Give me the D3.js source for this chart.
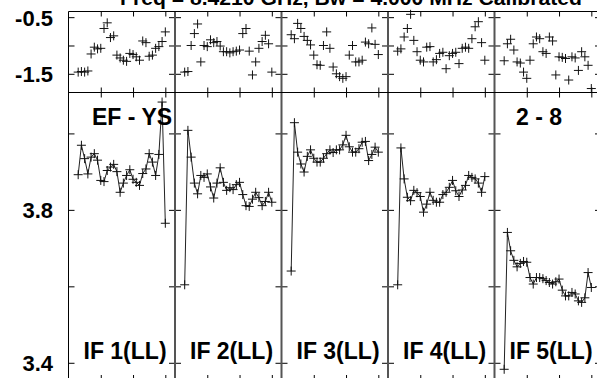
<!DOCTYPE html>
<html><head><meta charset="utf-8">
<script src="https://cdn.jsdelivr.net/npm/d3@7"></script>
<style>html,body{margin:0;padding:0;background:#fff;overflow:hidden}</style>
</head><body><svg id="c" width="597" height="378"></svg>
<script>
// ---------- DATA ----------
const channels = [3,4,5,6,7,8,9,10,11,12,13,14,15,16,17,18,19,20,21,22,23,24,25,26,27,28,29,30];
const ifLabels = ["IF 1(LL)","IF 2(LL)","IF 3(LL)","IF 4(LL)","IF 5(LL)"];
const titleText = "Freq = 8.4210 GHz, Bw = 4.000 MHz   Calibrated";
const baselineLabel = "EF - YS";
const stokesLabel = "2 - 8";

const phaseIF1 = [-1.47,-1.46,-1.47,-1.45,-1.15,-1.03,-1.06,-1.05,-0.70,-0.60,-0.86,-0.83,-1.17,-1.22,-1.26,-1.28,-1.14,-1.16,-1.20,-1.26,-0.92,-0.95,-1.19,-1.17,-1.05,-1.02,-0.93,-0.76];
const phaseIF2 = [-1.47,-1.46,-1.00,-0.79,-0.62,-1.29,-1.00,-1.02,-0.90,-0.95,-0.93,-1.01,-1.11,-1.11,-1.13,-1.11,-1.10,-1.08,-0.79,-0.70,-1.10,-1.52,-1.29,-1.05,-0.93,-0.82,-0.97,-1.47];
const phaseIF3 = [-0.81,-0.88,-0.61,-0.70,-0.84,-0.91,-0.99,-1.17,-1.34,-1.35,-1.00,-0.76,-1.05,-1.38,-1.50,-1.55,-1.58,-1.55,-1.17,-1.00,-1.29,-1.29,-1.26,-0.94,-0.97,-0.69,-0.98,-1.16];
const phaseIF4 = [-1.10,-1.06,-0.85,-0.70,-0.45,-0.91,-1.11,-1.26,-1.29,-1.03,-1.02,-1.29,-1.25,-1.14,-1.12,-1.41,-1.18,-1.14,-1.12,-1.32,-1.05,-1.03,-1.05,-0.88,-0.67,-0.58,-0.95,-1.26];
const phaseIF5 = [-1.27,-0.97,-0.89,-1.08,-1.29,-1.31,-1.47,-1.58,-1.26,-0.97,-0.85,-0.88,-1.11,-1.14,-0.85,-0.92,-1.52,-1.20,-1.21,-1.23,-1.61,-1.20,-1.22,-1.44,-1.11,-1.20,-1.35,-1.76];

const ampIF1 = [3.892,3.969,3.934,3.894,3.938,3.947,3.930,3.877,3.874,3.903,3.912,3.919,3.900,3.846,3.870,3.890,3.905,3.880,3.872,3.864,3.895,3.907,3.947,3.925,3.890,3.945,4.082,3.765];
const ampIF2 = [3.604,4.008,3.938,3.870,3.842,3.890,3.885,3.894,3.860,3.831,3.870,3.910,3.872,3.851,3.858,3.853,3.866,3.872,3.840,3.811,3.809,3.828,3.846,3.832,3.811,3.822,3.846,3.820];
const ampIF3 = [3.640,4.028,3.951,3.920,3.899,3.940,3.957,3.935,3.925,3.925,3.935,3.947,3.957,3.950,3.957,3.957,3.970,3.995,3.965,3.951,3.951,3.960,3.977,3.979,3.929,3.945,3.964,3.951];
const ampIF4 = [3.604,3.962,3.881,3.833,3.824,3.851,3.845,3.835,3.794,3.815,3.846,3.825,3.820,3.820,3.840,3.846,3.859,3.877,3.850,3.835,3.852,3.864,3.890,3.885,3.881,3.870,3.846,3.887];
const ampIF5 = [3.383,3.741,3.693,3.668,3.651,3.660,3.665,3.663,3.623,3.606,3.623,3.623,3.620,3.615,3.610,3.606,3.612,3.619,3.590,3.575,3.575,3.584,3.580,3.562,3.558,3.570,3.636,3.597];

const phaseTicks = [-0.5,-1.0,-1.5];
const phaseTickLabels = ["-0.5","","-1.5"];
const ampTicks = [3.4,3.6,3.8,4.0];
const ampTickLabels = ["3.4","","3.8",""];
const chanTicks = [10,20,30];

// ---------- DRAW ----------
const phases = [phaseIF1,phaseIF2,phaseIF3,phaseIF4,phaseIF5];
const amps = [ampIF1,ampIF2,ampIF3,ampIF4,ampIF5];

const svg = d3.select("#c");
svg.append("rect").attr("width",597).attr("height",378).attr("fill","#fff");
const FONT = "'Liberation Sans', Arial, Helvetica, sans-serif";

const left0 = 68.5, pw = 106.5;
const topY = 11.5, midY = 92.5, botY = 380;
const yPh = d3.scaleLinear().domain([-1.83,-0.40]).range([midY, topY]);
const yAmp = d3.scaleLinear().domain([3.355,4.107]).range([botY, midY]);

function plus(x, y, h) {
  return `M${x-h},${y}H${x+h}M${x},${y-h}V${y+h}`;
}

ifLabels.forEach((lab, i) => {
  const x = d3.scaleLinear().domain([0,33]).range([left0 + i*pw, left0 + (i+1)*pw]);
  const g = svg.append("g");
  const x0 = x.range()[0], x1 = x.range()[1];

  // ticks
  const tickStyle = sel => { sel.select(".domain").remove(); sel.selectAll("line").attr("stroke","#000"); sel.selectAll("text").remove(); };
  [[yPh, phaseTicks],[yAmp, ampTicks]].forEach(([ys, tv]) => {
    g.append("g").attr("transform",`translate(${x0},0)`).call(d3.axisRight(ys).tickValues(tv).tickSize(6)).call(tickStyle);
    g.append("g").attr("transform",`translate(${x1},0)`).call(d3.axisLeft(ys).tickValues(tv).tickSize(6)).call(tickStyle);
  });
  g.append("g").attr("transform",`translate(0,${topY})`).call(d3.axisBottom(x).tickValues(chanTicks).tickSize(5)).call(tickStyle);
  g.append("g").attr("transform",`translate(0,${midY})`).call(d3.axisTop(x).tickValues(chanTicks).tickSize(5)).call(tickStyle);
  g.append("g").attr("transform",`translate(0,${midY})`).call(d3.axisBottom(x).tickValues(chanTicks).tickSize(5)).call(tickStyle);
  g.append("g").attr("transform",`translate(0,${botY})`).call(d3.axisTop(x).tickValues(chanTicks).tickSize(5)).call(tickStyle);

  // phase markers
  g.append("path")
    .attr("d", channels.map((c,k) => plus(x(c), yPh(phases[i][k]), 4.5)).join(""))
    .attr("fill","none").attr("stroke","#111").attr("stroke-width",1);

  // amplitude line + markers
  const line = d3.line().x((d,k) => x(channels[k])).y(d => yAmp(d));
  g.append("path").attr("d", line(amps[i])).attr("fill","none").attr("stroke","#222").attr("stroke-width",1);
  g.append("path")
    .attr("d", channels.map((c,k) => plus(x(c), yAmp(amps[i][k]), 4.5)).join(""))
    .attr("fill","none").attr("stroke","#111").attr("stroke-width",1);

  // IF label
  g.append("text").attr("x", x0 + 15).attr("y", 359)
    .attr("font-family",FONT).attr("font-weight","bold").attr("font-size",23)
    .attr("fill","#000").text(lab);

  // divider
  if (i > 0) {
    g.append("line").attr("x1",x0).attr("x2",x0).attr("y1",topY).attr("y2",botY)
      .attr("stroke","#555").attr("stroke-width",2);
  }
});

// frame
svg.append("line").attr("x1",left0).attr("x2",600).attr("y1",topY).attr("y2",topY).attr("stroke","#000");
svg.append("line").attr("x1",left0).attr("x2",600).attr("y1",midY).attr("y2",midY).attr("stroke","#000");
svg.append("line").attr("x1",left0).attr("x2",left0).attr("y1",topY).attr("y2",botY).attr("stroke","#000");

// y labels
phaseTicks.forEach((v,k) => {
  if (!phaseTickLabels[k]) return;
  svg.append("text").attr("x",53).attr("y",yPh(v)+8.5).attr("text-anchor","end")
    .attr("font-family",FONT).attr("font-weight","bold").attr("font-size",22).text(phaseTickLabels[k]);
});
ampTicks.forEach((v,k) => {
  if (!ampTickLabels[k]) return;
  svg.append("text").attr("x",53).attr("y",yAmp(v)+8.5).attr("text-anchor","end")
    .attr("font-family",FONT).attr("font-weight","bold").attr("font-size",22).text(ampTickLabels[k]);
});

// corner labels
svg.append("text").attr("x",92).attr("y",125).attr("font-family",FONT).attr("font-weight","bold")
  .attr("font-size",23).text(baselineLabel);
svg.append("text").attr("x",516).attr("y",125).attr("font-family",FONT).attr("font-weight","bold")
  .attr("font-size",23).text(stokesLabel);

// title (cut at top)
svg.append("text").attr("x",120).attr("y",5).attr("font-family",FONT).attr("font-weight","bold")
  .attr("font-size",20).attr("textLength",462).attr("lengthAdjust","spacingAndGlyphs").text(titleText);
</script></body></html>
